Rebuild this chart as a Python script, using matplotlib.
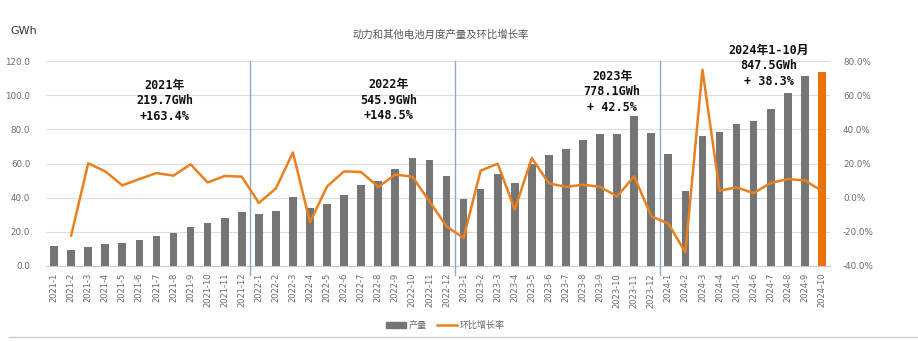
import numpy as np
import matplotlib.pyplot as plt
from matplotlib.patches import Patch
from matplotlib.lines import Line2D

plt.rcParams['font.family'] = ['DejaVu Sans', 'Noto Sans CJK SC']

# monthly output, GWh (2021-1 .. 2024-10)
years = [2021, 2022, 2023, 2024]
months_per_year = [12, 12, 12, 10]
labels = [f"{y}-{m}" for y, n in zip(years, months_per_year) for m in range(1, n + 1)]

output = [11.9, 9.4, 10.9, 12.9, 13.6, 15.0, 17.4, 19.3, 23.0, 25.0, 28.1, 31.6,
          30.2, 32.0, 40.2, 33.9, 36.1, 41.3, 47.5, 49.9, 56.5, 63.0, 62.2, 52.6,
          39.2, 45.0, 54.0, 48.5, 59.5, 64.9, 68.4, 73.5, 77.4, 77.4, 87.9, 77.6,
          65.5, 43.7, 76.0, 78.2, 82.9, 84.8, 92.0, 101.3, 111.3, 113.3]

# month-on-month growth, % (first month has no value)
mom = [np.nan, -22.2, 20.1, 15.4, 7.2, 10.9, 14.4, 12.9, 19.5, 8.9, 12.7, 12.3,
       -3.1, 5.4, 26.5, -14.4, 6.6, 15.4, 15.0, 6.3, 13.5, 12.3, -2.2, -16.8,
       -23.6, 15.8, 19.9, -7.0, 23.2, 8.4, 6.3, 7.6, 6.3, 0.8, 12.5, -10.9,
       -15.2, -32.0, 74.9, 4.1, 6.0, 2.7, 8.6, 10.9, 10.1, 3.9]

notes = ["2021年\n219.7GWh\n+163.4%",
         "2022年\n545.9GWh\n+148.5%",
         "2023年\n778.1GWh\n+ 42.5%",
         "2024年1-10月\n847.5GWh\n+ 38.3%"]
note_x = [6.5, 19.6, 32.7, 41.9]
note_y = [109.5, 110, 115, 130]

x = np.arange(len(labels))
gray = '#757575'
orange = '#E8801F'

fig = plt.figure(figsize=(9.18, 3.41), dpi=100)
ax = fig.add_axes([0.0496, 0.22, 0.855, 0.601])

colors = [gray] * (len(x) - 1) + ['#E8720C']
ax.bar(x, output, width=0.45, color=colors, zorder=2)
ax.set_ylim(0, 120)
ax.set_xlim(-0.5, len(x) - 0.5)
ax.set_yticks(np.arange(0, 121, 20))
ax.set_yticklabels([f"{v:.1f}" for v in np.arange(0, 121, 20)])
ax.grid(axis='y', color='#dcdcdc', linewidth=0.8, zorder=0)
ax.set_axisbelow(True)
for s in ['top', 'left', 'right']:
    ax.spines[s].set_visible(False)
ax.spines['bottom'].set_color('#c8c8c8')
ax.set_xticks(x)
ax.set_xticklabels(labels, rotation=90, fontsize=6, color='#6a6a6a')
ax.tick_params(axis='x', length=0, pad=5)
ax.tick_params(axis='y', length=0, pad=11, labelsize=6.3, labelcolor='#6a6a6a')

# year separators
for b in [11.5, 23.5, 35.5]:
    ax.axvline(b, ymin=-0.045, ymax=1.0, color='#8fa8c8', linewidth=1.0, clip_on=False, zorder=3)

ax2 = ax.twinx()
ax2.plot(x, mom, color=orange, linewidth=1.8, zorder=4)
ax2.set_ylim(-40, 80)
ax2.set_yticks(np.arange(-40, 81, 20))
ax2.set_yticklabels([f"{v:.1f}%" for v in np.arange(-40, 81, 20)])
ax2.tick_params(axis='y', length=0, pad=9, labelsize=6.3, labelcolor='#6a6a6a')
for s in ax2.spines.values():
    s.set_visible(False)

for t, nx, ny in zip(notes, note_x, note_y):
    ax.text(nx, ny, t, ha='center', va='top', fontsize=8.5, fontweight='bold',
            family=['DejaVu Sans Mono', 'Noto Sans CJK SC'], color='#111111',
            linespacing=1.25, zorder=5)

fig.text(0.48, 0.897, "动力和其他电池月度产量及环比增长率", ha='center', va='center',
         fontsize=7.5, color='#555555', family=['Noto Sans CJK SC'])
fig.text(0.011, 0.91, "GWh", ha='left', va='center', fontsize=8, color='#333333')

# legend
handles = [Patch(color=gray), Line2D([0], [0], color=orange, linewidth=1.8)]
fig.legend(handles, ['产量', '环比增长率'], loc='center', bbox_to_anchor=(0.485, 0.045),
           ncol=2, frameon=False, prop={'family': 'Noto Sans CJK SC', 'size': 6.5},
           labelcolor='#666666', handlelength=2.2, handleheight=0.5, columnspacing=1.2,
           handletextpad=0.3)
fig.add_artist(Line2D([0.01, 1.0], [0.012, 0.012], color='#cccccc', linewidth=1))

fig.savefig('out.png', dpi=100)
